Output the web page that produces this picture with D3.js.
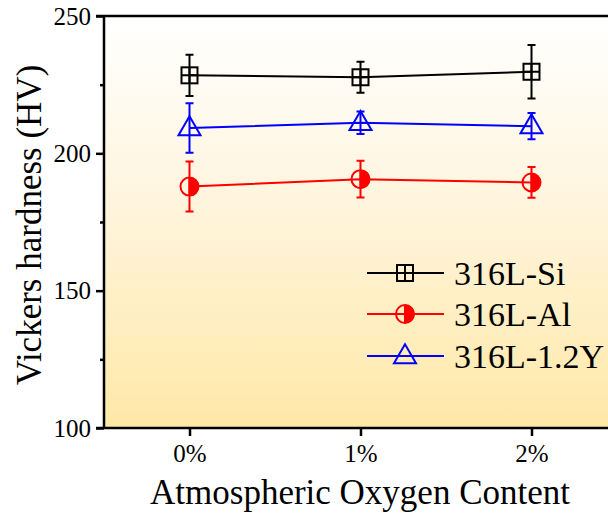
<!DOCTYPE html>
<html>
<head>
<meta charset="utf-8">
<script src="https://cdn.jsdelivr.net/npm/d3@7"></script>
<style>
  body { margin: 0; background: #fff; }
</style>
</head>
<body>
<div id="chart"></div>
<script>
const categories = ['0%', '1%', '2%']

const siMean = [228.4, 227.7, 229.7]
const siErr = [7.5, 5.6, 9.7]
const alMean = [187.9, 190.6, 189.4]
const alErr = [9.1, 6.7, 5.6]
const yMean = [209.2, 211.1, 209.9]
const yErr = [9.0, 4.1, 4.8]

const yMajor = [100, 150, 200, 250]
const yMinor = [125, 175, 225]

const series = [
  { name: '316L-Si', mean: siMean, err: siErr, color: '#000000', marker: 'square' },
  { name: '316L-Al', mean: alMean, err: alErr, color: '#ff0000', marker: 'halfcircle' },
  { name: '316L-1.2Y', mean: yMean, err: yErr, color: '#0000ff', marker: 'triangle' }
]

const serif = '"Liberation Serif", "Times New Roman", serif'

const width = 608, height = 514
const plotLeft = 104, plotTop = 16, plotBottom = 428, plotRight = 617

const svg = d3.select('#chart').append('svg')
  .attr('width', width)
  .attr('height', height)

const x = d3.scaleLinear().domain([-0.5, 2.5]).range([plotLeft, plotRight])
const y = d3.scaleLinear().domain([100, 250]).range([plotBottom, plotTop])

// background gradient
const grad = svg.append('defs').append('linearGradient')
  .attr('id', 'bg').attr('x1', 0).attr('x2', 0).attr('y1', 0).attr('y2', 1)
grad.append('stop').attr('offset', '0%').attr('stop-color', '#ffffff')
grad.append('stop').attr('offset', '50%').attr('stop-color', '#fff4da')
grad.append('stop').attr('offset', '100%').attr('stop-color', '#ffe8a6')

svg.append('rect')
  .attr('x', plotLeft).attr('y', plotTop)
  .attr('width', plotRight - plotLeft).attr('height', plotBottom - plotTop)
  .attr('fill', 'url(#bg)')

// axes
const yAxis = svg.append('g')
  .attr('transform', `translate(${plotLeft},0)`)
  .call(d3.axisLeft(y).tickValues(yMajor).tickSize(8).tickPadding(5).tickFormat(d3.format('d')))
yAxis.select('.domain').remove()
yAxis.selectAll('.tick line').attr('stroke-width', 2.5)
yAxis.selectAll('text').style('font-size', '25px').style('font-family', serif).attr('fill', '#000')

const yMinorAxis = svg.append('g')
  .attr('transform', `translate(${plotLeft},0)`)
  .call(d3.axisLeft(y).tickValues(yMinor).tickSize(4).tickFormat(''))
yMinorAxis.select('.domain').remove()
yMinorAxis.selectAll('.tick line').attr('stroke-width', 2.5)

const xAxis = svg.append('g')
  .attr('transform', `translate(0,${plotBottom})`)
  .call(d3.axisBottom(x).tickValues([0, 1, 2]).tickSize(8).tickPadding(8).tickFormat(i => categories[i]))
xAxis.select('.domain').remove()
xAxis.selectAll('.tick line').attr('stroke-width', 2.5)
xAxis.selectAll('text').style('font-size', '25px').style('font-family', serif).attr('fill', '#000')

// frame
svg.append('line').attr('x1', plotLeft - 8).attr('x2', plotRight).attr('y1', plotTop).attr('y2', plotTop)
  .attr('stroke', '#000').attr('stroke-width', 2.5)
svg.append('line').attr('x1', plotLeft - 8).attr('x2', plotRight).attr('y1', plotBottom).attr('y2', plotBottom)
  .attr('stroke', '#000').attr('stroke-width', 2.5)
svg.append('line').attr('x1', plotLeft).attr('x2', plotLeft).attr('y1', plotTop).attr('y2', plotBottom)
  .attr('stroke', '#000').attr('stroke-width', 2.5)

// titles
svg.append('text')
  .attr('x', 360)
  .attr('y', 504)
  .attr('text-anchor', 'middle')
  .style('font-size', '35px')
  .style('font-family', serif)
  .text('Atmospheric Oxygen Content')

svg.append('text')
  .attr('transform', `translate(41,${(plotTop + plotBottom) / 2 + 3}) rotate(-90)`)
  .attr('text-anchor', 'middle')
  .style('font-size', '35px')
  .style('font-family', serif)
  .text('Vickers hardness (HV)')

function drawMarker(g, type, color, cx, cy) {
  if (type === 'square') {
    const s = 16
    g.append('rect').attr('x', cx - s / 2).attr('y', cy - s / 2).attr('width', s).attr('height', s)
      .attr('fill', 'none').attr('stroke', color).attr('stroke-width', 2)
    g.append('path').attr('d', `M${cx - s / 2},${cy}H${cx + s / 2}M${cx},${cy - s / 2}V${cy + s / 2}`)
      .attr('stroke', color).attr('stroke-width', 2)
  } else if (type === 'halfcircle') {
    const r = 9
    g.append('path').attr('d', `M${cx},${cy - r}A${r},${r} 0 0 1 ${cx},${cy + r}Z`)
      .attr('fill', color)
    g.append('circle').attr('cx', cx).attr('cy', cy).attr('r', r)
      .attr('fill', 'none').attr('stroke', color).attr('stroke-width', 2)
    g.append('path').attr('d', `M${cx},${cy - r}V${cy + r}`)
      .attr('stroke', color).attr('stroke-width', 2)
  } else {
    const w = 22, h = 19
    g.append('path').attr('d', `M${cx},${cy - h * 0.62}L${cx + w / 2},${cy + h * 0.38}L${cx - w / 2},${cy + h * 0.38}Z`)
      .attr('fill', 'none').attr('stroke', color).attr('stroke-width', 2)
  }
}

const line = d3.line().x((d, i) => x(i)).y(d => y(d))

series.forEach(s => {
  const g = svg.append('g')
  // error bars
  s.mean.forEach((m, i) => {
    const cx = x(i)
    const y1 = y(m + s.err[i]), y2 = y(m - s.err[i])
    g.append('path')
      .attr('d', `M${cx},${y1}V${y2}M${cx - 4},${y1}H${cx + 4}M${cx - 4},${y2}H${cx + 4}`)
      .attr('stroke', s.color).attr('stroke-width', 2).attr('fill', 'none')
  })
  g.append('path').datum(s.mean)
    .attr('d', line)
    .attr('fill', 'none').attr('stroke', s.color).attr('stroke-width', 2)
  s.mean.forEach((m, i) => drawMarker(g, s.marker, s.color, x(i), y(m)))
})

// legend
const legendY = [273, 314, 356]
series.forEach((s, i) => {
  const g = svg.append('g')
  const ly = legendY[i]
  g.append('line').attr('x1', 367).attr('x2', 444).attr('y1', ly).attr('y2', ly)
    .attr('stroke', s.color).attr('stroke-width', 2)
  drawMarker(g, s.marker, s.color, 405, ly)
  g.append('text').attr('x', 454).attr('y', ly).attr('dy', '0.35em')
    .style('font-size', '34px')
    .style('font-family', serif)
    .text(s.name)
})
</script>
</body>
</html>
